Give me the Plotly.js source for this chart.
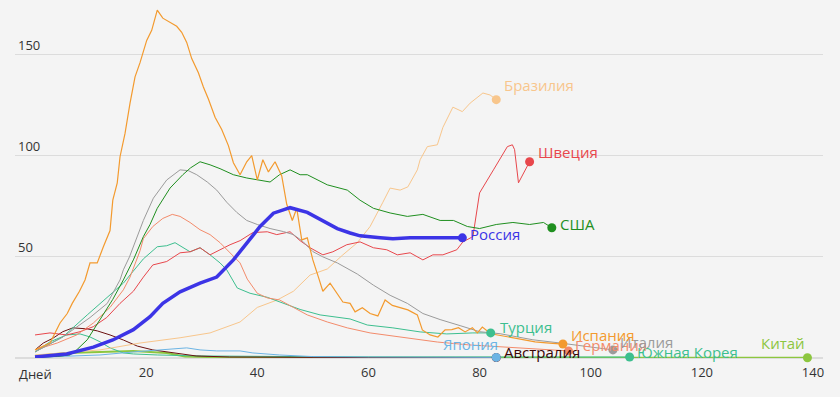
<!DOCTYPE html>
<html>
<head>
<meta charset="utf-8">
<script src="https://cdn.plot.ly/plotly-3.0.1.min.js"></script>
<style>
html,body{margin:0;padding:0;background:#f4f4f4;}
#chart{width:840px;height:397px;}
</style>
</head>
<body>
<div id="chart"></div>
<script>
// ---- data (days since start, new cases per million) ----
const spainX = [0,2.7,3.6,4.5,5.8,6.7,8,9,9.9,11.2,12.3,13.5,14,14.8,15.3,16.2,17.1,18,18.9,20.1,21,22,23,24.3,25.5,26.4,27.3,28.2,29.4,30.3,31.2,32.4,33.6,34.8,35.7,36.9,38.1,39,40,41,42,43.2,44.4,45.3,46.3,47.1,48,49,50,51,51.8,53.1,54.4,55.4,56.7,57.6,58.9,60.3,61.7,63,64.3,65.7,67.1,68.8,69.7,71.1,72.5,73.8,75,76.2,77.4,78.7,79.6,80.5,82,84,86,88,90,92,95];
const spainY = [4,7.4,12.4,17.3,22,27,33,38.6,47,47,55,63,78,86.6,99.5,111,126,139,146,157,162,172,168,166,164,161,156,148,141,134,128,119,113,105,96.5,90.6,97,100,88,98,92,97,90,76,68,74,58.4,59.4,48.5,40,33,37,32,27.7,27,22.8,24.8,22,20.8,28.7,26,25,23.8,21.3,13.9,11.4,10.4,13.9,14,15,12.9,15,12.4,15.3,12,11,10,9,8,7.5,6.9];

const italyX = [0,5,9.9,13,15.3,15.9,17,18,19.5,21.3,23.7,26.1,27.6,29.1,31,32.7,34.5,36.3,38.1,40,42.3,44.7,46.5,48.2,50,51.8,54.4,58,60.9,63.9,67,69.8,72.9,76.5,80,83.7,89.6,94.5,100,104];
const italyY = [3,10.4,20,27,38.6,43.6,50,57,68,79,88,93,92.6,90.6,87,83,77,72,68,66,64,62.5,61,57.6,52.6,50,47,41.5,36,31,27,22,19,16,13,12,9,7.4,5.5,4];

const usaX = [0,4,6.3,7.5,9.4,11.7,14,15.9,17.7,19.5,20.7,22,23.4,24.3,26.6,28,29.7,31.5,33.3,35.7,38.1,40,42.3,44,45.9,47.7,49,52.6,56.2,58.5,60.9,63.9,67,69.8,72.9,75.3,77.8,80,83,86,89,91.5,93];
const usaY = [0.3,0.8,1.5,4,9,18.8,29,38.6,48.5,60,66,74,80,84,90.6,94,97,95.5,93.6,90.6,89,88,87,90.6,93,90.6,90.6,85.6,83,78,74,71.7,70,71,68,68,65,64,66,67,66,67,64.4];

const germanyX = [0,4,7.5,10.5,13.5,15.9,17.1,18.9,19.5,21.2,23,24.7,26.1,27.9,29.7,31.5,33.3,35.1,36.9,38.2,40,41.8,44,46.5,49,52.6,56.2,60.3,64.4,68.8,72.4,78,84,90,96];
const germanyY = [4,7.4,11.4,17.3,25,33.7,40,53,59,65,69,71,70,67,63.4,61,57,52,47,39,32,29.7,28.7,25,21.3,17.8,14.9,12.4,10.9,9.4,7.9,6.5,5.5,4.5,3.5];

const swedenX = [0,2.7,5.7,8.1,10.5,12.9,15.3,17.7,19.5,21.2,23.7,26.1,27.9,29.7,31.5,33.3,35.1,36.9,39.2,41.8,43.5,45.9,47.7,49.5,51.8,53.6,56.1,58.5,60.9,63.3,65.2,67.5,69.8,71.6,73.4,75.9,77,78.8,80,82.5,85,85.9,86.3,87,89];
const swedenY = [11.4,12.4,11.4,13,15.5,20,27,33,40,46,47.7,52,52.5,54.5,51,53.5,56,58,62,62.4,61,62.4,58,54.5,51,52.5,56,57.4,54.5,53.5,51,52,48.5,51,51,53.5,57.4,60,81.6,93,104.5,105.4,103,86.6,97];

const turkeyX = [0,5,9.4,12.9,15.9,18.3,19.5,22,23.7,25.2,26.6,27.9,29.7,31.5,33.3,34.5,36.4,38.7,41.8,44.7,47.7,51.3,56.7,59.8,64.4,69.3,74.1,78.8,82];
const turkeyY = [3,10.4,21.3,30,37,45,49,55,55.5,57,54.5,52.5,54.5,51,47,43.6,34.6,32,30,27,24,21.3,19.3,16.3,14.9,12.9,11.9,12.4,12.4];

const brazilX = [0,11.7,18.9,26.1,31.5,36.9,40,43.6,46.5,49.5,52.6,55.4,58,60.3,62.6,63.9,65.7,67.1,68.8,69.3,70.6,72.4,73.4,75.2,76.9,78.3,80.6,81.9,83];
const brazilY = [1.5,4,7.4,10,12.4,17.8,25,28.7,33,41,44,51,57,65,77,84,83,84.6,93,98,104.5,105.4,114,124,121.8,126,131,130,127.7];

const russiaX = [0,5.7,10.5,14,17.7,20.7,23,26.1,29.7,32.7,35.7,38.1,40.5,42.9,45.9,49,51.8,54.4,56.7,58.5,62.1,64.4,67.5,70.5,73.4,76.9];
const russiaY = [0.5,2,5.4,8.9,14,20.4,27,32.7,37,40,48.5,57,65,71.6,74.3,72,68,64,61.8,60.4,59.4,58.9,59.4,59.4,59.4,59.4];

const japanX = [0,5,11.7,17.7,23.7,27.3,29.7,32.7,36.9,39.2,44,50,60,70,83];
const japanY = [0.3,0.8,1.5,3,4.4,5,4,3.5,3.5,2.5,1.5,0.7,0.5,0.3,0.3];

const australiaX = [0,1.5,3.3,5,6.8,9.4,11.2,13.5,15.9,18.4,21.2,24.8,29,35,45,60,83];
const australiaY = [4,7.4,9.9,13,14.9,14.4,13.4,11.4,8.9,5.9,4,2.5,1,0.5,0.3,0.2,0.2];

const koreaX = [0,2.7,5.7,8.1,9.9,11.7,13.5,15.9,17.7,22,30,40,50,60,70,80,90,100,107];
const koreaY = [3,8,11.4,11.9,10.4,8,5,2.5,2,1.5,1,0.8,0.5,0.5,0.5,0.5,0.7,0.8,0.5];

const chinaX = [0,5.7,11.7,17.7,23.7,27,35,50,70,90,110,125,139];
const chinaY = [1,2.5,3,3.5,2.5,0.7,0.3,0.2,0.1,0.1,0.1,0.1,0.1];

const xTickVals = [0,20,40,60,80,100,120,140];
const xTickText = ["Дней","20","40","60","80","100","120","140"];
const yTickVals = [50,100,150];

// ---- styles ----
const series = [
  {name:"Китай",       x:chinaX,     y:chinaY,     color:"#8cc63f", w:2,   dx:0,  dy:15, anchor:"right"},
  {name:"Южная Корея", x:koreaX,     y:koreaY,     color:"#3dbf8f", w:1,   dx:5,  dy:5,  anchor:"left"},
  {name:"Австралия",   x:australiaX, y:australiaY, color:"#6b1010", w:1,   dx:6,  dy:6,  anchor:"left", tcolor:"#3a0606"},
  {name:"Япония",      x:japanX,     y:japanY,     color:"#6cb4e4", w:1,   dx:4,  dy:13, anchor:"right"},
  {name:"Бразилия",    x:brazilX,    y:brazilY,    color:"#f8c68c", w:1,   dx:6,  dy:15, anchor:"left"},
  {name:"Турция",      x:turkeyX,    y:turkeyY,    color:"#3dbf8f", w:1,   dx:7,  dy:6,  anchor:"left"},
  {name:"Швеция",      x:swedenX,    y:swedenY,    color:"#e8474c", w:1,   dx:6,  dy:10, anchor:"left"},
  {name:"Германия",    x:germanyX,   y:germanyY,   color:"#f38b6b", w:1,   dx:5,  dy:6,  anchor:"left"},
  {name:"Италия",      x:italyX,     y:italyY,     color:"#9b9b9b", w:1,   dx:5,  dy:8,  anchor:"left"},
  {name:"США",         x:usaX,       y:usaY,       color:"#1f8f1f", w:1,   dx:6,  dy:4,  anchor:"left"},
  {name:"Испания",     x:spainX,     y:spainY,     color:"#f39a2e", w:1.2, dx:6,  dy:9,  anchor:"left"},
  {name:"Россия",      x:russiaX,    y:russiaY,    color:"#3c34e6", w:3.5, dx:6,  dy:4,  anchor:"left"}
];

const traces = [];
const annotations = [];
series.forEach(s => {
  traces.push({
    type:"scatter", mode:"lines", x:s.x, y:s.y, name:s.name,
    line:{color:s.color, width:s.w}, hoverinfo:"skip", showlegend:false
  });
});
series.forEach(s => {
  const n = s.x.length - 1;
  traces.push({
    type:"scatter", mode:"markers", x:[s.x[n]], y:[s.y[n]],
    marker:{color:s.color, size:9}, hoverinfo:"skip", showlegend:false, cliponaxis:false
  });
  annotations.push({
    x:s.x[n], y:s.y[n], xref:"x", yref:"y", text:s.name, showarrow:false,
    xanchor:s.anchor, yanchor:"middle",
    xshift:s.dx, yshift:s.dy,
    font:{family:"Open Sans, sans-serif", size:15, color:s.tcolor || s.color}
  });
});
// first x tick label (hidden by Plotly next to the inside y labels), drawn as annotation
annotations.push({
  x:xTickVals[0], y:0, xref:"x", yref:"paper", text:xTickText[0], showarrow:false,
  xanchor:"center", yanchor:"top", yshift:-5,
  font:{family:"Open Sans, sans-serif", size:13, color:"#333"}
});

const layout = {
  width:840, height:397,
  margin:{l:15, r:17, t:4, b:39, pad:0},
  paper_bgcolor:"#f4f4f4", plot_bgcolor:"#f4f4f4",
  font:{family:"Open Sans, sans-serif", size:13, color:"#333"},
  showlegend:false,
  xaxis:{
    range:[-3.6, 141.8], tickvals:xTickVals, ticktext:xTickText,
    showgrid:false, zeroline:false, showline:false, ticks:"",
    ticklabelstandoff:5,
    tickfont:{size:13, color:"#333"}, fixedrange:true
  },
  yaxis:{
    range:[0, 175], tickvals:yTickVals, ticklabelposition:"inside top",
    showgrid:true, gridcolor:"#dcdcdc", gridwidth:1,
    zeroline:true, zerolinecolor:"#dcdcdc", zerolinewidth:2,
    showline:false, ticks:"", tickfont:{size:13, color:"#333"}, fixedrange:true
  },
  annotations:annotations
};

Plotly.newPlot("chart", traces, layout, {displayModeBar:false, staticPlot:true});
</script>
</body>
</html>
